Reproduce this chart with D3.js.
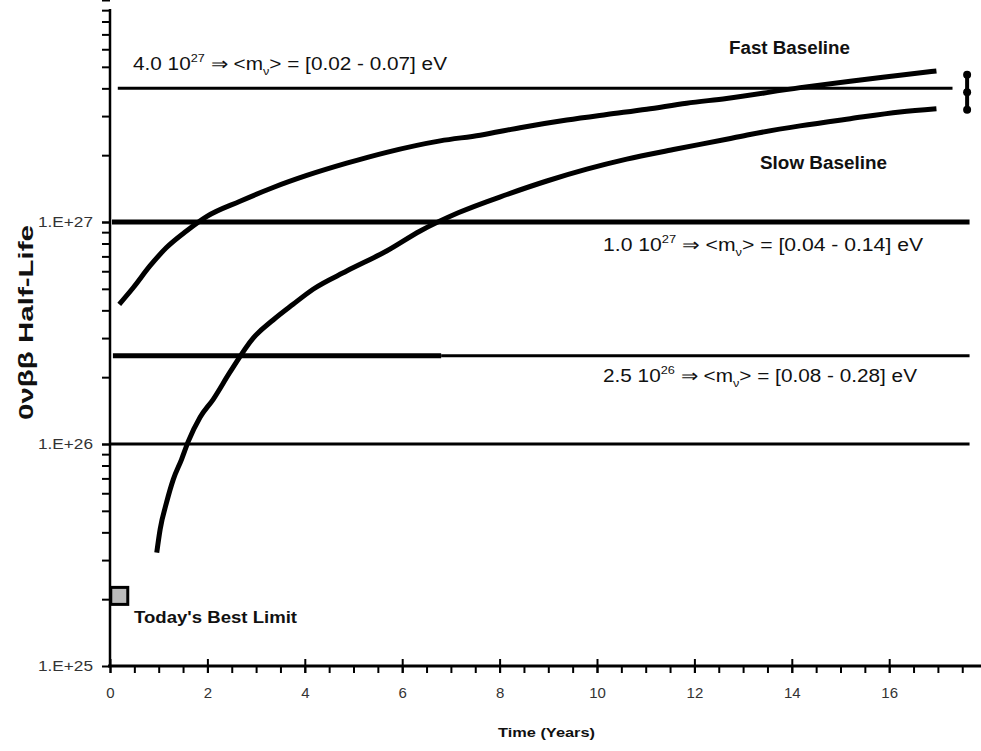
<!DOCTYPE html>
<html>
<head>
<meta charset="utf-8">
<script src="https://cdn.jsdelivr.net/npm/d3@7"></script>
<style>
  html, body { margin: 0; padding: 0; background: #fff; }
  svg { display: block; }
  text { font-family: "Liberation Sans", Arial, sans-serif; fill: #111; }
</style>
</head>
<body>
<svg id="chart" width="981" height="751"></svg>
<script>
// ---- data ----
const fastYears = [0.19, 0.48, 0.82, 1.16, 1.57, 1.99, 2.67, 3.35, 4.04, 4.86, 5.68, 6.78, 7.60, 8.42, 9.38, 10.2, 11.02, 11.84, 12.66, 14.17, 15.2, 16.22, 16.97];
const fastHalfLife = [4.26e26, 5.07e26, 6.34e26, 7.67e26, 9.11e26, 1.06e27, 1.24e27, 1.43e27, 1.62e27, 1.84e27, 2.06e27, 2.32e27, 2.46e27, 2.66e27, 2.88e27, 3.05e27, 3.22e27, 3.43e27, 3.60e27, 4.03e27, 4.31e27, 4.58e27, 4.79e27];
const slowYears = [0.96, 1.03, 1.16, 1.30, 1.47, 1.61, 1.85, 2.12, 2.46, 2.94, 3.35, 3.76, 4.17, 4.86, 5.68, 6.37, 7.15, 8.15, 8.97, 9.79, 10.61, 11.57, 12.66, 13.14, 14.17, 15.2, 16.22, 16.97];
const slowHalfLife = [3.24e25, 4.13e25, 5.44e25, 6.93e25, 8.53e25, 1.03e26, 1.32e26, 1.59e26, 2.10e26, 3.0e26, 3.62e26, 4.26e26, 4.98e26, 6.01e26, 7.40e26, 9.11e26, 1.10e27, 1.33e27, 1.53e27, 1.73e27, 1.92e27, 2.12e27, 2.36e27, 2.48e27, 2.71e27, 2.92e27, 3.13e27, 3.24e27];
const todayBest = { years: 0.18, halfLife: 2.08e25, label: "Today's Best Limit" };
const rangeMarker = { years: 17.6, low: 3.2e27, high: 4.6e27 };
const sensitivityLevels = [4.0e27, 1.0e27, 2.5e26, 1.0e26];
const levelMantissa = ["4.0", "1.0", "2.5", null];
const levelExponent = ["27", "27", "26", null];
const massRanges = ["[0.02 - 0.07] eV", "[0.04 - 0.14] eV", "[0.08 - 0.28] eV", null];
const yDecades = [1e25, 1e26, 1e27];
const yDecadeLabels = ["1.E+25", "1.E+26", "1.E+27"];
const xMajorTicks = [0, 2, 4, 6, 8, 10, 12, 14, 16];
const xAxisTitle = "Time (Years)";
const yAxisTitle = "0\u03BD\u03B2\u03B2  Half-Life";
const seriesLabels = ["Fast Baseline", "Slow Baseline"];

// ---- scales ----
const svg = d3.select("#chart");
const x = d3.scaleLinear().domain([0, 18]).range([110, 986.6]);
const y = d3.scaleLog().domain([1e25, 1e28]).range([666, 0]);

// ---- horizontal sensitivity lines ----
const lineStyle = [
  [{ from: 0.16, to: 17.3, w: 3 }],
  [{ from: 0.04, to: 17.65, w: 5 }],
  [{ from: 0.06, to: 6.8, w: 5 }, { from: 6.8, to: 17.65, w: 3 }],
  [{ from: 0, to: 17.65, w: 3 }]
];
sensitivityLevels.forEach((v, i) => {
  lineStyle[i].forEach(s => {
    svg.append("line")
      .attr("x1", x(s.from)).attr("x2", x(s.to))
      .attr("y1", y(v)).attr("y2", y(v))
      .attr("stroke", "#000").attr("stroke-width", s.w);
  });
});

// ---- curves ----
const line = d3.line().x(d => x(d[0])).y(d => y(d[1])).curve(d3.curveMonotoneX);
svg.append("path")
  .datum(fastYears.map((t, i) => [t, fastHalfLife[i]]))
  .attr("d", line).attr("fill", "none").attr("stroke", "#000").attr("stroke-width", 5);
svg.append("path")
  .datum(slowYears.map((t, i) => [t, slowHalfLife[i]]))
  .attr("d", line).attr("fill", "none").attr("stroke", "#000").attr("stroke-width", 5);

// ---- axes ----
// Y axis
const yMinor = [];
[1e25, 1e26, 1e27].forEach(d => { for (let k = 1; k <= 10; k++) yMinor.push(d * k); });
const yAxis = d3.axisLeft(y).tickValues(yMinor).tickSize(8).tickFormat(() => "");
const gy = svg.append("g").attr("transform", "translate(110,0)").call(yAxis);
gy.select(".domain").remove();
gy.selectAll(".tick line").attr("stroke", "#000").attr("stroke-width", 2);
svg.append("line").attr("x1", 110).attr("x2", 110).attr("y1", 9).attr("y2", y(1e25))
  .attr("stroke", "#000").attr("stroke-width", 2.5);
svg.selectAll(".ylab").data(yDecades).enter().append("text")
  .attr("x", 93).attr("y", d => y(d)).attr("dy", "0.35em")
  .attr("text-anchor", "end").style("font-size", "14px").style("fill", "#333")
  .attr("textLength", 55).attr("lengthAdjust", "spacingAndGlyphs")
  .text((d, i) => yDecadeLabels[i]);

// X axis
const xMinor = d3.range(0, 18.01, 0.5);
const gxm = svg.append("g").attr("transform", `translate(0,${y(1e25)})`)
  .call(d3.axisBottom(x).tickValues(xMinor).tickSize(7).tickFormat(() => ""));
gxm.select(".domain").remove();
gxm.selectAll(".tick line").attr("stroke", "#000").attr("stroke-width", 2);
const gx = svg.append("g").attr("transform", `translate(0,${y(1e25) - 7})`)
  .call(d3.axisBottom(x).tickValues(xMajorTicks).tickSize(14).tickPadding(14).tickFormat(d3.format("d")));
gx.select(".domain").remove();
gx.selectAll(".tick line").attr("stroke", "#000").attr("stroke-width", 2);
gx.selectAll(".tick text").style("font-size", "15px").style("fill", "#333")
  .style("font-family", '"Liberation Sans", Arial, sans-serif');
svg.append("line").attr("x1", 108).attr("x2", 981).attr("y1", y(1e25)).attr("y2", y(1e25))
  .attr("stroke", "#000").attr("stroke-width", 3);

// axis titles
svg.append("text").attr("x", 498).attr("y", 737)
  .attr("textLength", 97).attr("lengthAdjust", "spacingAndGlyphs")
  .style("font-size", "13px").style("font-weight", "bold").text(xAxisTitle);
svg.append("text").attr("transform", "translate(33,420) rotate(-90)")
  .attr("textLength", 195).attr("lengthAdjust", "spacingAndGlyphs")
  .style("font-size", "20px").style("font-weight", "bold").text(yAxisTitle);

// ---- sensitivity labels ----
const labelPos = [
  { x: 133, y: 70, w: 314 },
  { x: 603, y: 251, w: 320 },
  { x: 603, y: 382, w: 314 }
];
labelPos.forEach((p, i) => {
  const t = svg.append("text").attr("x", p.x).attr("y", p.y)
    .attr("textLength", p.w).attr("lengthAdjust", "spacingAndGlyphs")
    .style("font-size", "18px");
  t.append("tspan").text(levelMantissa[i] + " 10");
  t.append("tspan").attr("dy", -8).style("font-size", "11px").text(levelExponent[i]);
  t.append("tspan").attr("dy", 8).text(" \u21D2 " + (i === 1 ? " " : "") + "<m");
  t.append("tspan").attr("dy", 5).style("font-size", "11px").text("\u03BD");
  t.append("tspan").attr("dy", -5).text("> = " + massRanges[i]);
});

// series labels
svg.append("text").attr("x", 729).attr("y", 54)
  .attr("textLength", 121).attr("lengthAdjust", "spacingAndGlyphs")
  .style("font-size", "18px").style("font-weight", "bold").text(seriesLabels[0]);
svg.append("text").attr("x", 760).attr("y", 169)
  .attr("textLength", 127).attr("lengthAdjust", "spacingAndGlyphs")
  .style("font-size", "18px").style("font-weight", "bold").text(seriesLabels[1]);

// ---- today's best limit ----
svg.append("rect")
  .attr("x", x(todayBest.years) - 8).attr("y", y(todayBest.halfLife) - 8)
  .attr("width", 17).attr("height", 17)
  .attr("fill", "#bbb").attr("stroke", "#000").attr("stroke-width", 3);
svg.append("text").attr("x", 134).attr("y", 623)
  .attr("textLength", 163).attr("lengthAdjust", "spacingAndGlyphs")
  .style("font-size", "17px").style("font-weight", "bold").text(todayBest.label);

// ---- right range marker ----
svg.append("line")
  .attr("x1", x(rangeMarker.years)).attr("x2", x(rangeMarker.years))
  .attr("y1", y(rangeMarker.high)).attr("y2", y(rangeMarker.low))
  .attr("stroke", "#000").attr("stroke-width", 4);
svg.selectAll(".blob").data([rangeMarker.high, Math.sqrt(rangeMarker.high * rangeMarker.low), rangeMarker.low])
  .enter().append("circle")
  .attr("cx", x(rangeMarker.years)).attr("cy", d => y(d)).attr("r", 4).attr("fill", "#000");
</script>
</body>
</html>
